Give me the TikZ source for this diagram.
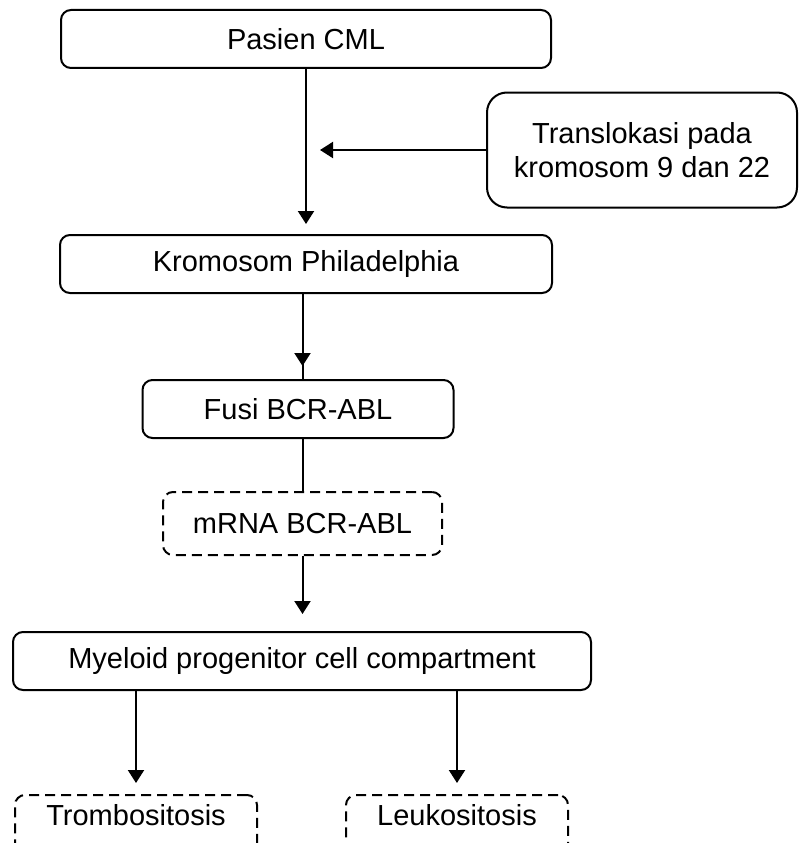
\documentclass[tikz,border=0pt]{standalone}
\usepackage{fontspec}
\setmainfont{Liberation Sans}
\usetikzlibrary{arrows.meta}

\begin{document}
\begin{tikzpicture}[x=1pt,y=-1pt,
        box/.style={draw, line width=2pt, rounded corners=10pt, inner sep=0pt, minimum height=58pt, align=center, font=\fontsize{29}{34}\selectfont},
        dbox/.style={box, dash pattern=on 10pt off 6pt},
        lowbox/.style={dbox, minimum height=0pt, text height=30pt, text depth=36pt},
        arr/.style={line width=2pt, -{Triangle[length=13pt,width=16pt]}}]
        \clip (0,0) rectangle (798,843);
        \node[box, minimum width=490pt] (p) at (306,39) {Pasien CML};
        \node[box, minimum width=310pt, minimum height=115pt, rounded corners=20pt] (t) at (642,150) {Translokasi pada\\kromosom 9 dan 22};
        \node[box, minimum width=492pt] (k) at (306,264) {Kromosom Philadelphia};
        \node[box, minimum width=311pt] (f) at (298,409) {Fusi BCR-ABL};
        \node[dbox, minimum width=279pt, minimum height=63pt] (r) at (302.5,523.5) {mRNA BCR-ABL};
        \node[box, minimum width=578pt] (y) at (302,661) {Myeloid progenitor cell compartment};
        \node[lowbox, minimum width=242pt, anchor=north] (tr) at (136,794) {Trombositosis};
        \node[lowbox, minimum width=222pt, anchor=north] (le) at (457,794) {Leukositosis};
        \coordinate (mid) at (320,150);
        \draw[arr, shorten >=10pt] (p) -- (k);
        \draw[arr] (t) -- (mid);
        \draw[line width=2pt] (r.north |- k.south) -- (r.north |- f.north);
        \draw[arr, shorten >=13pt] (r.north |- k.south) -- (r.north |- f.north);
        \draw[line width=2pt] (r.north |- f.south) -- (r.north);
        \draw[arr, shorten >=17pt] (r) -- (r |- y.north);
        \draw[arr, shorten >=11pt] (tr.north |- y.south) -- (tr);
        \draw[arr, shorten >=11pt] (le.north |- y.south) -- (le);
\end{tikzpicture}
\end{document}
